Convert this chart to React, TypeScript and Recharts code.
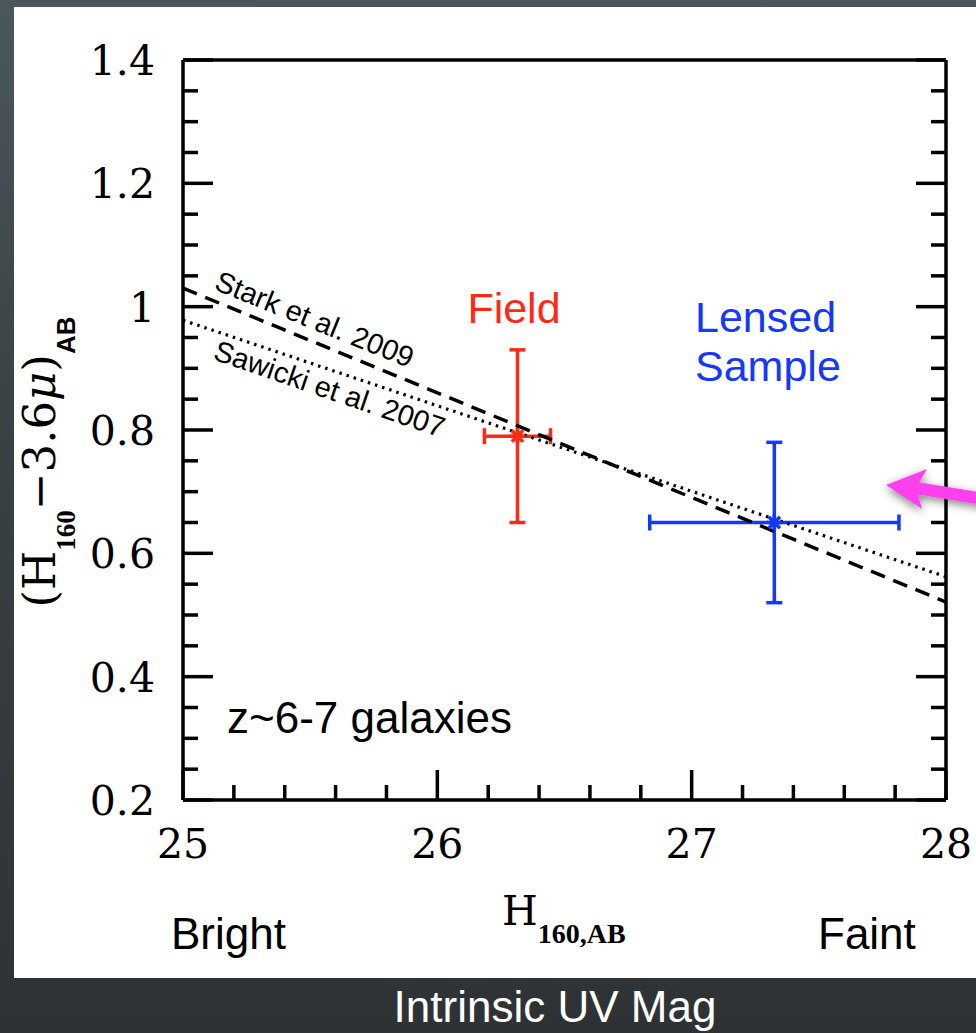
import { ComposedChart, ErrorBar, Scatter, XAxis, YAxis } from "recharts";

// axis ticks
const xTicks = [25, 25.2, 25.4, 25.6, 25.8, 26, 26.2, 26.4, 26.6, 26.8, 27, 27.2, 27.4, 27.6, 27.8, 28];
const xMajor = [25, 26, 27, 28];
const yTicks = [
  0.2, 0.25, 0.3, 0.35, 0.4, 0.45, 0.5, 0.55, 0.6, 0.65, 0.7, 0.75, 0.8, 0.85, 0.9, 0.95, 1, 1.05, 1.1,
  1.15, 1.2, 1.25, 1.3, 1.35, 1.4,
];
const yMajor = [0.2, 0.4, 0.6, 0.8, 1, 1.2, 1.4];

// measurements
const field = [{ x: 26.315, y: 0.79, ex: 0.13, ey: 0.14 }];
const lensed = [{ x: 27.325, y: 0.65, ex: 0.49, ey: 0.13 }];

// fits
const stark2009 = [
  { x: 25, y: 1.03 },
  { x: 28, y: 0.521 },
];
const sawicki2007 = [
  { x: 25, y: 0.978 },
  { x: 28, y: 0.562 },
];

const RED = "#ff2a14";
const BLUE = "#1438ff";
const SERIF = "DejaVu Serif";
const SANS = "Liberation Sans";
const AXIS_W = 3.5;

function BottomTick(props: any) {
  const { x, y, payload } = props;
  const major = xMajor.includes(payload.value);
  return (
    <g>
      <line x1={x} y1={y} x2={x} y2={y - (major ? 30 : 15)} stroke="#000" strokeWidth={AXIS_W} />
      {major && (
        <text x={x} y={y + 58} textAnchor="middle" fontFamily={SERIF} fontSize={41} fill="#000">
          {payload.value}
        </text>
      )}
    </g>
  );
}

function TopTick(props: any) {
  const { x, y, payload } = props;
  const major = xMajor.includes(payload.value);
  return <line x1={x} y1={y} x2={x} y2={y + (major ? 30 : 15)} stroke="#000" strokeWidth={AXIS_W} />;
}

function LeftTick(props: any) {
  const { x, y, payload } = props;
  const major = yMajor.includes(payload.value);
  return (
    <g>
      <line x1={x} y1={y} x2={x + (major ? 30 : 15)} y2={y} stroke="#000" strokeWidth={AXIS_W} />
      {major && (
        <text x={x - 28} y={y + 15} textAnchor="end" fontFamily={SERIF} fontSize={41} fill="#000">
          {payload.value}
        </text>
      )}
    </g>
  );
}

function RightTick(props: any) {
  const { x, y, payload } = props;
  const major = yMajor.includes(payload.value);
  return <line x1={x} y1={y} x2={x - (major ? 30 : 15)} y2={y} stroke="#000" strokeWidth={AXIS_W} />;
}

function Asterisk(props: any) {
  const { cx, cy, color } = props;
  const r = 8;
  const d = r * 0.707;
  return (
    <g stroke={color} strokeWidth={3.5}>
      <line x1={cx - r} y1={cy} x2={cx + r} y2={cy} />
      <line x1={cx} y1={cy - r} x2={cx} y2={cy + r} />
      <line x1={cx - d} y1={cy - d} x2={cx + d} y2={cy + d} />
      <line x1={cx - d} y1={cy + d} x2={cx + d} y2={cy - d} />
    </g>
  );
}

export default function App() {
  return (
    <div
      style={{
        position: "absolute",
        left: 0,
        top: 0,
        width: 976,
        height: 1033,
        overflow: "hidden",
        background: "linear-gradient(180deg, #4a585e 0%, #3a4246 40%, #2e3234 100%)",
      }}
    >
      <div style={{ position: "absolute", left: 14, top: 7, width: 980, height: 971, background: "#fff" }} />
      <div style={{ position: "absolute", left: 0, top: 0 }}>
        <ComposedChart width={976} height={1033} margin={{ top: 50, right: 20, bottom: 183, left: 83 }}>
          <XAxis
            dataKey="x"
            type="number"
            domain={[25, 28]}
            ticks={xTicks}
            allowDataOverflow
            height={50}
            tickSize={0}
            tickMargin={0}
            tickLine={false}
            interval={0}
            axisLine={{ stroke: "#000", strokeWidth: AXIS_W }}
            tick={<BottomTick />}
          />
          <XAxis
            xAxisId="t"
            orientation="top"
            type="number"
            domain={[25, 28]}
            ticks={xTicks}
            allowDataOverflow
            height={10}
            tickSize={0}
            tickMargin={0}
            tickLine={false}
            interval={0}
            axisLine={{ stroke: "#000", strokeWidth: AXIS_W }}
            tick={<TopTick />}
          />
          <YAxis
            dataKey="y"
            type="number"
            domain={[0.2, 1.4]}
            ticks={yTicks}
            allowDataOverflow
            width={100}
            tickSize={0}
            tickMargin={0}
            tickLine={false}
            interval={0}
            axisLine={{ stroke: "#000", strokeWidth: AXIS_W }}
            tick={<LeftTick />}
          />
          <YAxis
            yAxisId="r"
            orientation="right"
            type="number"
            domain={[0.2, 1.4]}
            ticks={yTicks}
            allowDataOverflow
            width={10}
            tickSize={0}
            tickMargin={0}
            tickLine={false}
            interval={0}
            axisLine={{ stroke: "#000", strokeWidth: AXIS_W }}
            tick={<RightTick />}
          />
          <Scatter
            name="Stark et al. 2009"
            data={stark2009}
            line={{ stroke: "#000", strokeWidth: 3.5, strokeDasharray: "15 9" }}
            shape={() => <g />}
            isAnimationActive={false}
          />
          <Scatter
            name="Sawicki et al. 2007"
            data={sawicki2007}
            line={{ stroke: "#000", strokeWidth: 3.2, strokeDasharray: "2.5 5" }}
            shape={() => <g />}
            isAnimationActive={false}
          />
          <Scatter
            name="Field"
            data={field}
            fill={RED}
            shape={(p: any) => <Asterisk {...p} color={RED} />}
            isAnimationActive={false}
          >
            <ErrorBar dataKey="ey" direction="y" width={8} stroke={RED} strokeWidth={3.5} />
            <ErrorBar dataKey="ex" direction="x" width={8} stroke={RED} strokeWidth={3.5} />
          </Scatter>
          <Scatter
            name="Lensed Sample"
            data={lensed}
            fill={BLUE}
            shape={(p: any) => <Asterisk {...p} color={BLUE} />}
            isAnimationActive={false}
          >
            <ErrorBar dataKey="ey" direction="y" width={8} stroke={BLUE} strokeWidth={3.5} />
            <ErrorBar dataKey="ex" direction="x" width={8} stroke={BLUE} strokeWidth={3.5} />
          </Scatter>
        </ComposedChart>
      </div>
      <svg
        width={976}
        height={1033}
        style={{ position: "absolute", left: 0, top: 0, pointerEvents: "none" }}
      >
        <defs>
          <filter id="shadow" x="-30%" y="-60%" width="160%" height="220%">
            <feGaussianBlur in="SourceAlpha" stdDeviation="5" />
            <feOffset dx="0" dy="3" result="b" />
            <feComponentTransfer>
              <feFuncA type="linear" slope="0.5" />
            </feComponentTransfer>
            <feMerge>
              <feMergeNode />
              <feMergeNode in="SourceGraphic" />
            </feMerge>
          </filter>
        </defs>
        <text transform="translate(55,462) rotate(-90)" textAnchor="middle" fontFamily={SERIF} fontSize={45} fill="#000">
          (H
          <tspan dy={20} fontSize={27} fontWeight="bold" fontFamily="Liberation Serif">
            160
          </tspan>
          <tspan dy={-20}>−3.6</tspan>
          <tspan fontStyle="italic">μ</tspan>)
          <tspan dy={20} fontSize={26} fontWeight="bold" fontFamily="Liberation Sans">
            AB
          </tspan>
        </text>
        <text x={502} y={925} fontFamily={SERIF} fontSize={41} fill="#000">
          H
          <tspan dy={18} fontSize={28} fontWeight="bold" fontFamily="Liberation Serif">
            160,AB
          </tspan>
        </text>
        <text x={171} y={949} fontFamily={SANS} fontSize={44} fill="#000">
          Bright
        </text>
        <text x={818} y={949} fontFamily={SANS} fontSize={44} fill="#000">
          Faint
        </text>
        <text x={555} y={1022} textAnchor="middle" fontFamily={SANS} fontSize={44} fill="#fff">
          Intrinsic UV Mag
        </text>
        <text x={514} y={323} textAnchor="middle" fontFamily={SANS} fontSize={43} fill={RED}>
          Field
        </text>
        <text x={695} y={332} fontFamily={SANS} fontSize={43} fill={BLUE}>
          Lensed
        </text>
        <text x={695} y={381} fontFamily={SANS} fontSize={43} fill={BLUE}>
          Sample
        </text>
        <text x={227} y={733} fontFamily={SANS} fontSize={44} fill="#000">
          z~6-7 galaxies
        </text>
        <text transform="translate(213,289) rotate(22)" fontFamily={SANS} fontSize={29} fill="#000">
          Stark et al. 2009
        </text>
        <text transform="translate(212,359) rotate(19)" fontFamily={SANS} fontSize={29} fill="#000">
          Sawicki et al. 2007
        </text>
        <g filter="url(#shadow)" fill="#ff40ee" stroke="none">
          <line x1={910} y1={487} x2={990} y2={500} stroke="#ff40ee" strokeWidth={12} />
          <polygon points="886,485 927,469 916,488 922,509" />
        </g>
      </svg>
    </div>
  );
}
